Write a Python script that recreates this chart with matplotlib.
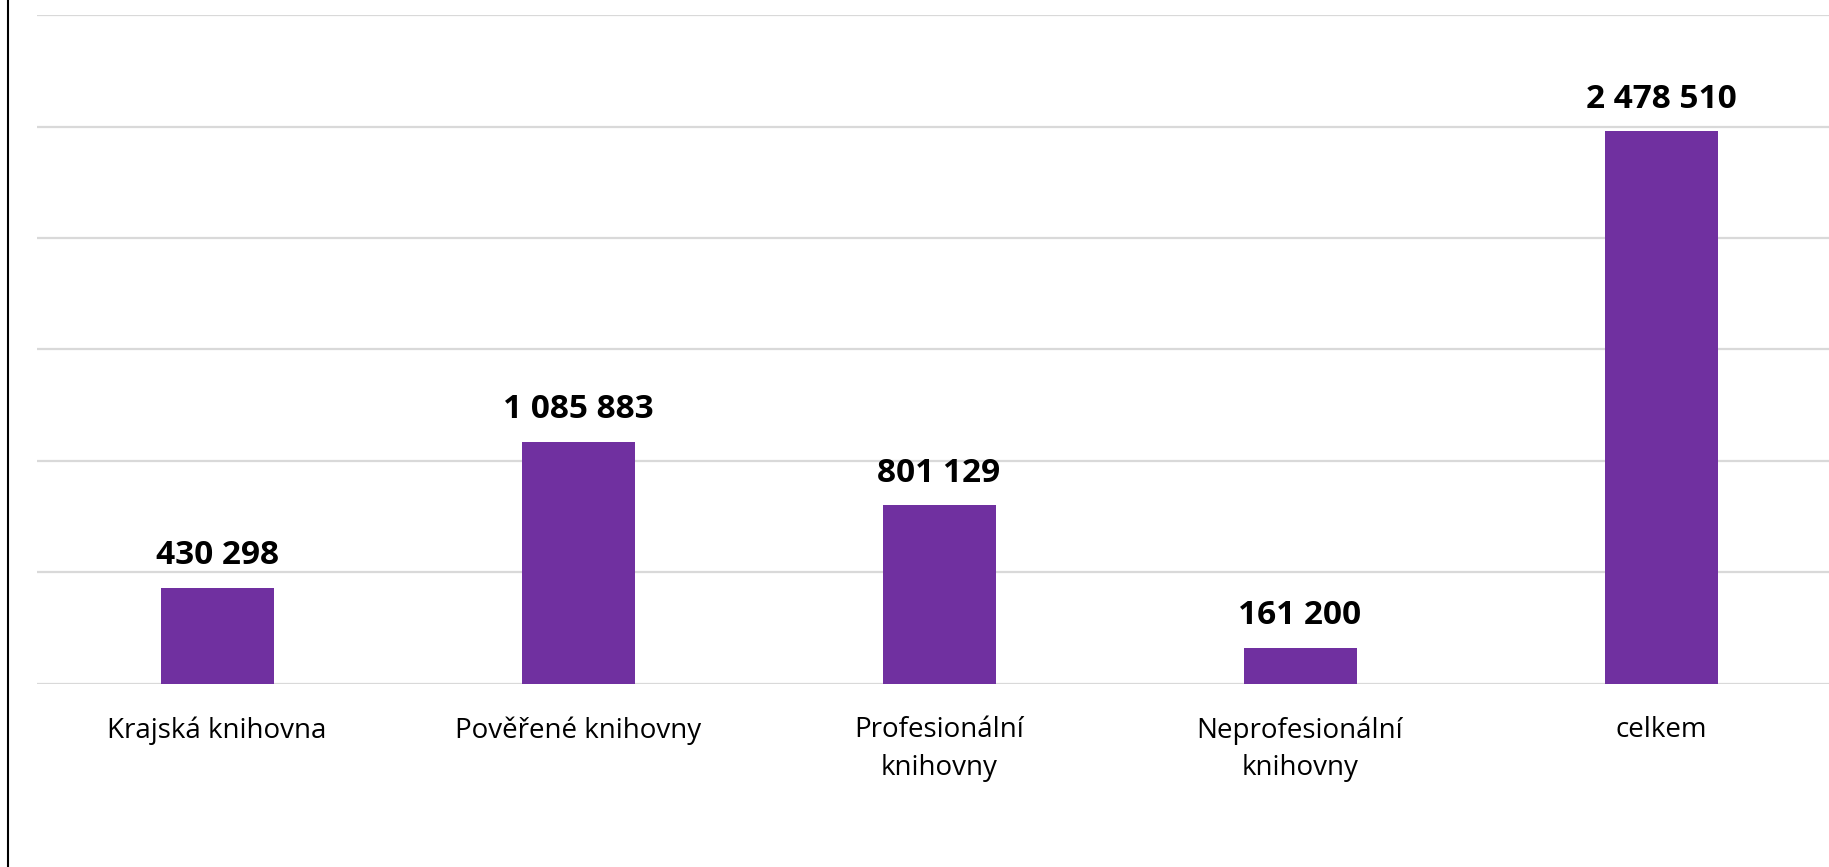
import numpy as np
import matplotlib.pyplot as plt
from matplotlib.lines import Line2D

categories = ['Krajská knihovna', 'Pověřené knihovny', 'Profesionální\nknihovny',
              'Neprofesionální\nknihovny', 'celkem']
values = [430298, 1085883, 801129, 161200, 2478510]

plt.rcParams['font.family'] = ['Open Sans', 'DejaVu Sans']

fig = plt.figure(figsize=(18.29, 8.67), dpi=100)
ax = fig.add_axes([0.01996, 0.2115, 0.9869, 0.771])

x = np.arange(len(categories))
ax.bar(x, values, width=0.313, color='#7030A0', zorder=3)

ax.set_xlim(-0.5, len(categories) - 0.5)
ax.set_ylim(0, 3000000)
ax.set_yticks(np.arange(0, 3000001, 500000))
ax.yaxis.grid(True, color='#d9d9d9', linewidth=1.6, zorder=0)
ax.tick_params(axis='y', left=False, labelleft=False)
ax.tick_params(axis='x', bottom=False, pad=20)
ax.set_xticks(x)
ax.set_xticklabels(categories, fontsize=20, linespacing=1.45)
for s in ax.spines.values():
    s.set_visible(False)

for xi, v in zip(x, values):
    txt = f'{v:,}'.replace(',', ' ')
    ax.annotate(txt, (xi, v), xytext=(0, 11), textcoords='offset points',
                ha='center', va='bottom', fontsize=24, fontweight='bold')

# black frame line on the left
fig.add_artist(Line2D([8 / 1829, 8 / 1829], [0, 1], color='black', linewidth=1.5,
                      transform=fig.transFigure))

fig.savefig('out.png', dpi=100)
